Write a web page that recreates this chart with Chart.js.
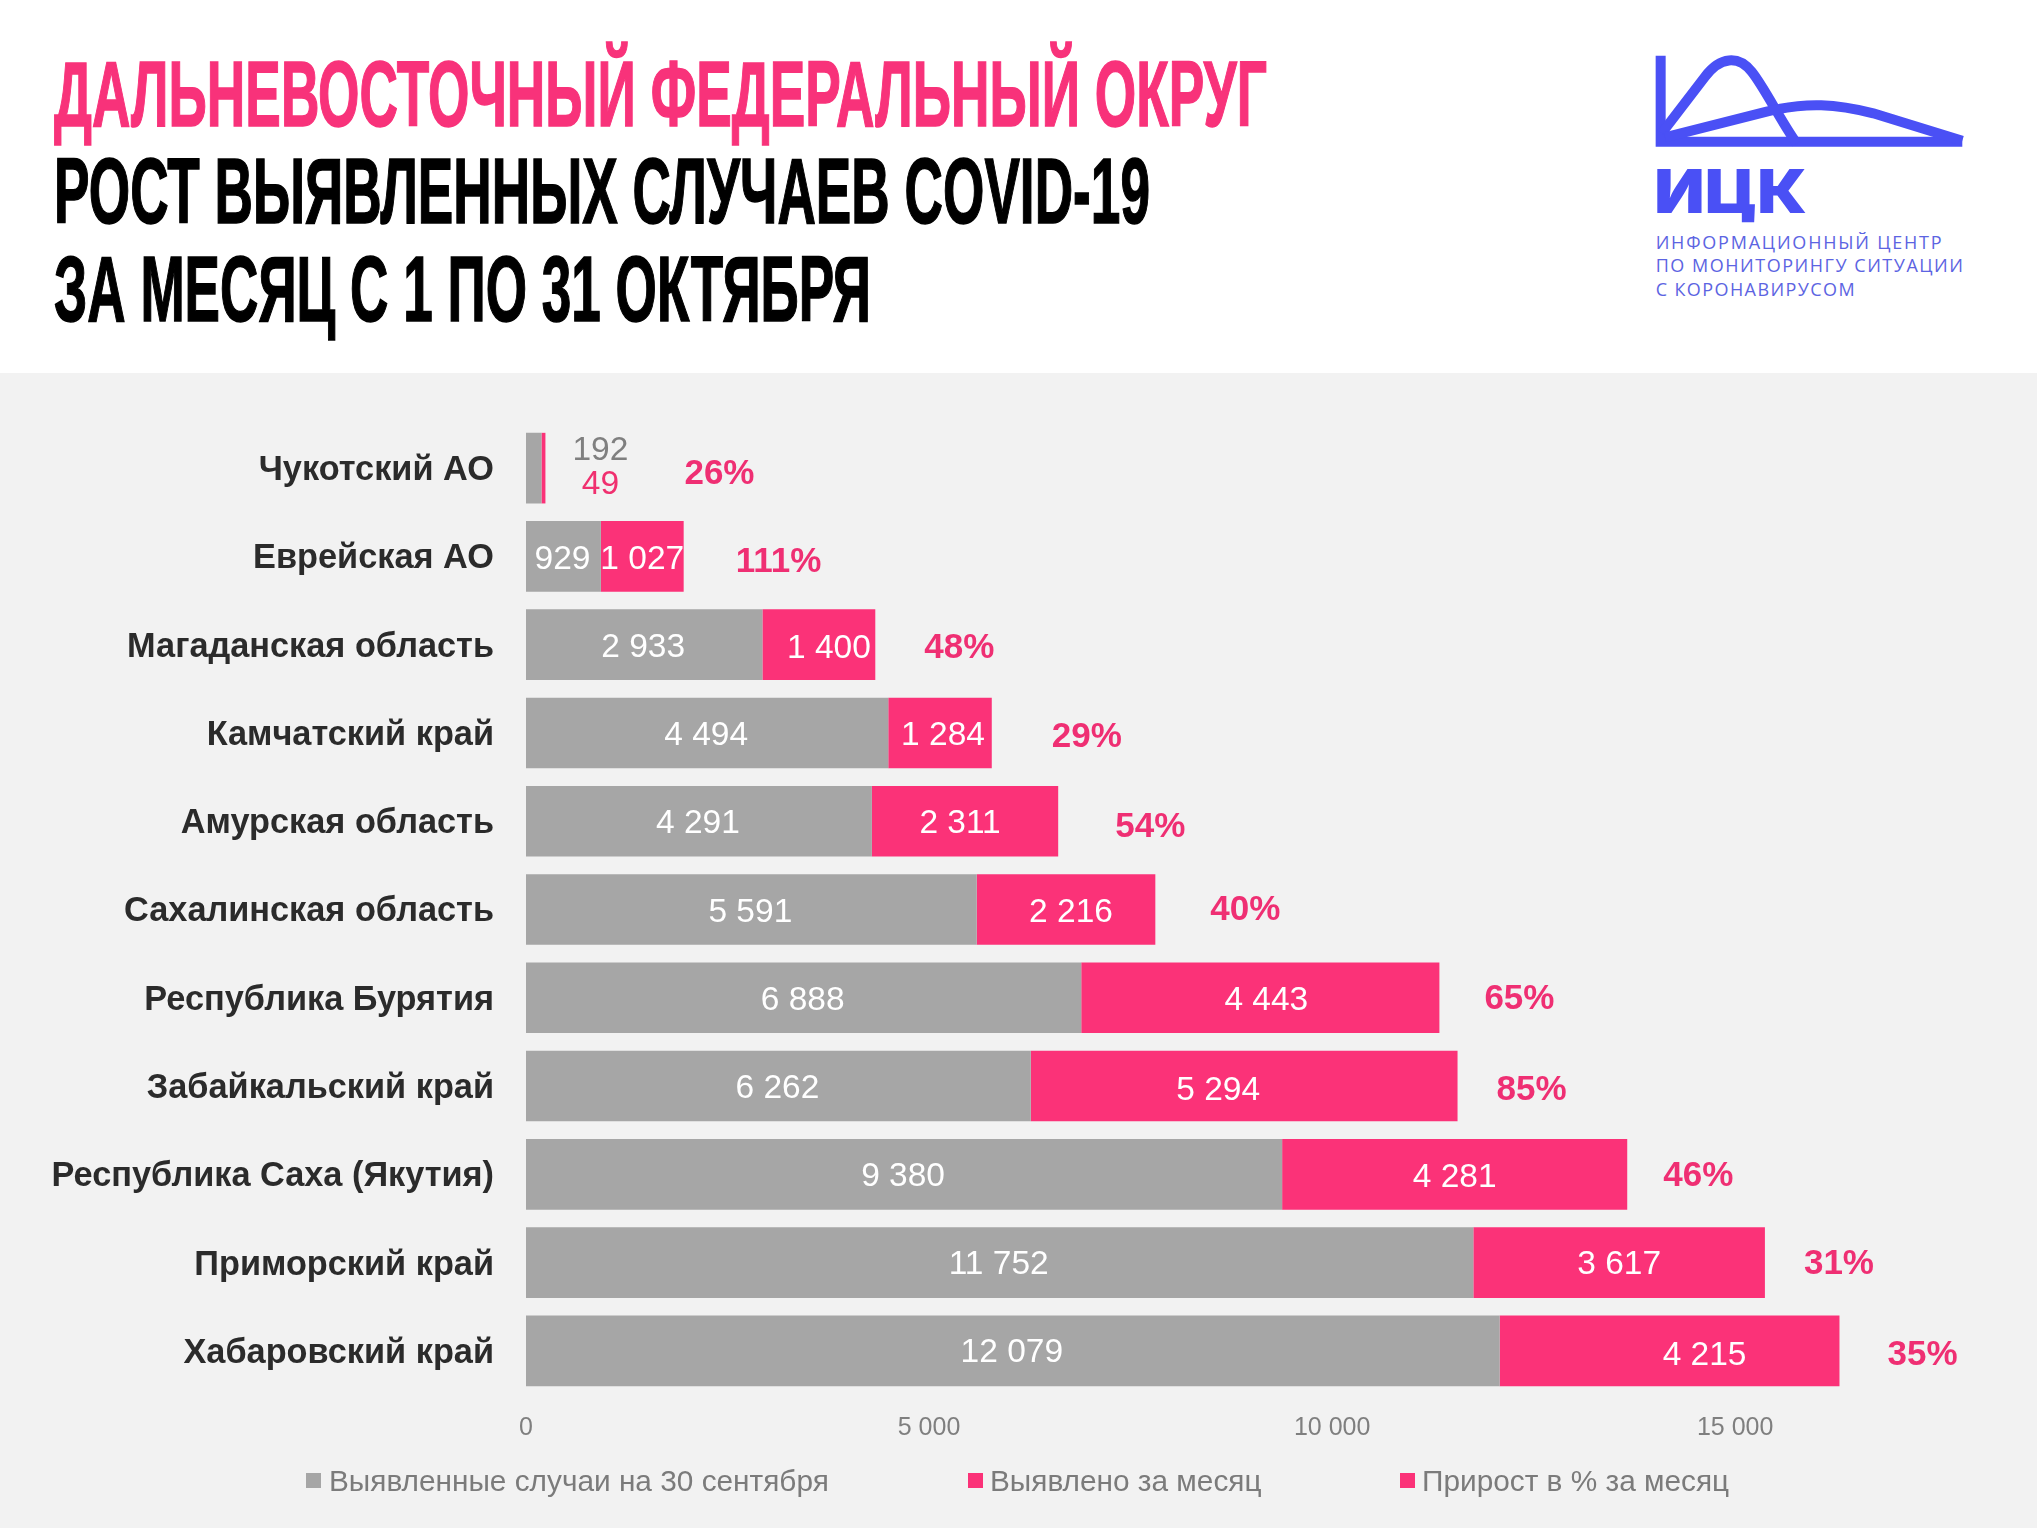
<!DOCTYPE html>
<html lang="ru">
<head>
<meta charset="utf-8">
<title>Дальневосточный федеральный округ</title>
<script src="https://cdn.jsdelivr.net/npm/chart.js@4"></script>
<style>
    html, body { margin: 0; padding: 0; background: #fff; }
    #page { position: relative; width: 2037px; height: 1528px; overflow: hidden; background: #fff; }
    #panel { position: absolute; left: 0; top: 373px; width: 2037px; height: 1155px; background: #f2f2f2; }
    #grafico { position: absolute; left: 0; top: 0; }
    #cabecalho { position: absolute; left: 0; top: 0; }
    .titulo { font-family: "Liberation Sans Narrow", "Liberation Sans", sans-serif; font-weight: 700; font-size: 92px; stroke-width: 1.5px; }
    .legenda { position: absolute; top: 1462px; height: 38px; line-height: 38px; color: #7b7b7b; white-space: nowrap;
        font-family: "Liberation Sans", sans-serif; font-size: 29.8px; }
    .legenda i { position: absolute; top: 11px; width: 15px; height: 15px; }
</style>
</head>
<body>
<div id="page">
    <div id="panel"></div>
    <svg id="cabecalho" width="2037" height="373" viewBox="0 0 2037 373">
        <text class="titulo" x="54" y="126" fill="#f8327a" stroke="#f8327a" textLength="1213" lengthAdjust="spacingAndGlyphs">ДАЛЬНЕВОСТОЧНЫЙ ФЕДЕРАЛЬНЫЙ ОКРУГ</text>
        <text class="titulo" x="54" y="223" fill="#000" stroke="#000" textLength="1096" lengthAdjust="spacingAndGlyphs">РОСТ ВЫЯВЛЕННЫХ СЛУЧАЕВ COVID-19</text>
        <text class="titulo" x="54" y="321" fill="#000" stroke="#000" textLength="817" lengthAdjust="spacingAndGlyphs">ЗА МЕСЯЦ С 1 ПО 31 ОКТЯБРЯ</text>
        <g transform="translate(1620,30) scale(0.3333)" fill="none" stroke="#4a50f5" stroke-width="30">
            <path d="M122 77V335H1027" />
            <path d="M125 310L255 140C300 80 355 75 395 125C435 175 480 270 530 340" />
            <path d="M135 322L440 245C560 215 650 222 760 250L1027 332" />
            <text x="103" y="550" textLength="458" lengthAdjust="spacingAndGlyphs" fill="#4a50f5" stroke="none" font-family="Inter, 'DejaVu Sans', sans-serif" font-weight="900" font-size="180">ИЦК</text>
            <g fill="#5c64e2" stroke="none" font-family="'Open Sans', sans-serif" font-size="54">
                <text x="107" y="658" textLength="858">ИНФОРМАЦИОННЫЙ ЦЕНТР</text>
                <text x="107" y="725" textLength="922">ПО МОНИТОРИНГУ СИТУАЦИИ</text>
                <text x="107" y="797" textLength="597">С КОРОНАВИРУСОМ</text>
            </g>
        </g>
    </svg>
    <canvas id="grafico" width="2037" height="1528"></canvas>
</div>

<script>
const regioes = ["Чукотский АО", "Еврейская АО", "Магаданская область", "Камчатский край", "Амурская область",
    "Сахалинская область", "Республика Бурятия", "Забайкальский край", "Республика Саха (Якутия)",
    "Приморский край", "Хабаровский край"];
const casos30Set = [192, 929, 2933, 4494, 4291, 5591, 6888, 6262, 9380, 11752, 12079];
const casosMes = [49, 1027, 1400, 1284, 2311, 2216, 4443, 5294, 4281, 3617, 4215];
const crescimento = [26, 111, 48, 29, 54, 40, 65, 85, 46, 31, 35];
const ticksX = [0, 5000, 10000, 15000];
const nomesSeries = ["Выявленные случаи на 30 сентября", "Выявлено за месяц", "Прирост в % за месяц"];

const CINZA = "#a6a6a6";
const ROSA = "#fb3278";
const FONTE = '"Liberation Sans", sans-serif';

// ajustes manuais dos rotulos, em px (no original foram colocados a mao)
const folgaPct = [139, 52, 49, 60, 57, 55, 45, 39, 36, 39, 48];
const descePct = [6, 6, 4, 4, 6, 1, 2, 4, 2, 2, 4];
const desceRosa = [0, 3, 4, 3, 3, 3, 3, 5, 3, 2, 5];
const desceCinza = [0, 3, 3, 3, 3, 3, 3, 3, 2, 2, 2];
const ladoRosa = [0, 0, 10, 3, -5, 5, 6, -26, 0, 0, 35];

function formata(valor) {
    return String(valor).replace(/\B(?=(\d{3})+$)/g, " ");
}

// legenda feita em html porque a do chart.js usa o mesmo padding na vertical
const legendaX = [[306, 329], [968, 990], [1400, 1422]];
const legendaCor = [CINZA, ROSA, ROSA];
nomesSeries.forEach(function (nome, i) {
    let item = document.createElement("div");
    item.className = "legenda";
    item.style.left = legendaX[i][1] + "px";
    item.textContent = nome;
    let caixa = document.createElement("i");
    caixa.style.left = (legendaX[i][0] - legendaX[i][1]) + "px";
    caixa.style.background = legendaCor[i];
    item.appendChild(caixa);
    document.getElementById("page").appendChild(item);
});

const rotulos = {
    id: "rotulos",
    afterDatasetsDraw(chart) {
        let ctx = chart.ctx;
        let cinza = chart.getDatasetMeta(0).data;
        let rosa = chart.getDatasetMeta(1).data;
        ctx.save();
        ctx.textBaseline = "middle";
        for (let i = 0; i < regioes.length; i++) {
            ctx.font = "33.5px " + FONTE;
            ctx.textAlign = "center";
            if (rosa[i].x - rosa[i].base < 20) {
                // barra pequena demais, os numeros ficam do lado de fora
                ctx.fillStyle = "#7f7f7f";
                ctx.fillText(formata(casos30Set[i]), rosa[i].x + 55, rosa[i].y - 17);
                ctx.fillStyle = "#f0306f";
                ctx.fillText(formata(casosMes[i]), rosa[i].x + 55, rosa[i].y + 17);
            } else {
                ctx.fillStyle = "#fff";
                ctx.fillText(formata(casos30Set[i]), (cinza[i].x + cinza[i].base) / 2 - 1, cinza[i].y + desceCinza[i]);
                ctx.fillText(formata(casosMes[i]), (rosa[i].x + rosa[i].base) / 2 + ladoRosa[i], rosa[i].y + desceRosa[i]);
            }
            ctx.font = "bold 35px " + FONTE;
            ctx.textAlign = "left";
            ctx.fillStyle = "#ef2f73";
            ctx.fillText(crescimento[i] + "%", rosa[i].x + folgaPct[i], rosa[i].y + descePct[i]);
        }
        ctx.restore();
    }
};

let grafico = new Chart(document.getElementById("grafico").getContext("2d"), {
    type: "bar",
    data: {
        labels: regioes,
        datasets: [
            { label: nomesSeries[0], data: casos30Set, backgroundColor: CINZA },
            { label: nomesSeries[1], data: casosMes, backgroundColor: ROSA }
        ]
    },
    options: {
        indexAxis: "y",
        responsive: false,
        animation: false,
        devicePixelRatio: 1,
        barPercentage: 0.8,
        categoryPercentage: 1,
        layout: { padding: { top: 424, right: 60, left: 0, bottom: 0 } },
        plugins: { legend: { display: false }, tooltip: { enabled: false } },
        scales: {
            x: {
                stacked: true,
                min: 0,
                max: 18000,
                afterFit(scale) { scale.height = 133; },
                afterBuildTicks(scale) { scale.ticks = ticksX.map(v => ({ value: v })); },
                grid: { display: false, drawTicks: false },
                border: { display: false },
                ticks: {
                    maxRotation: 0,
                    padding: 18,
                    color: "#7f7f7f",
                    font: { family: FONTE, size: 25 },
                    callback: function (valor) { return formata(valor); }
                }
            },
            y: {
                stacked: true,
                afterFit(scale) { scale.width = 526; },
                grid: { display: false, drawTicks: false },
                border: { display: false },
                ticks: {
                    padding: 32,
                    labelOffset: 2.5,
                    color: "#2b2b2b",
                    font: { family: FONTE, size: 34.3, weight: "bold" }
                }
            }
        }
    },
    plugins: [rotulos]
});
</script>
</body>
</html>
